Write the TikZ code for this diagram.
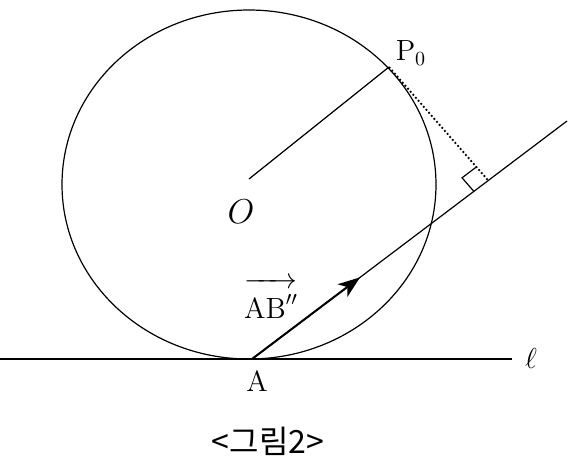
\documentclass[tikz,border=0pt]{standalone}
\usepackage{fontspec}
\usepackage{amsmath}
\newfontfamily\krfont{Noto Sans CJK KR}
\usetikzlibrary{calc,arrows.meta}
\tikzset{
  lbl/.style={inner sep=0pt,font=\fontsize{14.6}{17}\selectfont},
  curve/.style={line width=0.6pt}
}
\begin{document}
\begin{tikzpicture}[x=0.5pt,y=-0.5pt]
	\useasboundingbox (0,0) rectangle (585,468);
	% Points
	\coordinate (O) at (249,184.5);
	\coordinate (A) at (252,359);
	\coordinate (E) at (567,121);
	\coordinate (P0) at (389,67);
	\coordinate (F) at ($(A)!0.75!(E)$);
	% Circle and lines
	\draw[curve] (O) ellipse [x radius=187, y radius=174.5];
	\draw[curve] (0,359) coordinate (L0) -- (512,359) coordinate (L1);
	\draw[curve] (A) -- (E);
	\draw[curve] (249,179) coordinate (C0) -- (P0);
	\draw[line width=0.9pt,dash pattern=on 0.9pt off 1.1pt] (P0) -- (F);
	% Right angle
	\coordinate (m1) at ($(F)!9pt!(A)$);
	\coordinate (m2) at ($(F)!9pt!(P0)$);
	\draw[curve] (m1) -- ($(m1)+(m2)-(F)$) -- (m2);
	% Vector
	\draw[line width=1pt,-{Stealth[length=11pt,width=8pt,inset=3pt]}] (A) -- ($(A)!0.343!(E)$) coordinate (B);
	% Labels
	\node[lbl] (labP) at (411,53) {$\mathrm{P}_0$};
	\node[lbl,font=\fontsize{17}{20}\selectfont] (labO) at (241,212) {$O$};
	\node[lbl] (labV) at (271,298) {$\overrightarrow{\mathrm{AB}''\rule{0pt}{2.4ex}}$};
	\node[lbl] (labA) at (257,381) {A};
	\node[lbl] (labl) at (531,358) {$\ell$};
	\node[lbl,font=\krfont\fontsize{16}{19}\selectfont] (cap) at (268,441) {<그림2>};
\end{tikzpicture}
\end{document}
